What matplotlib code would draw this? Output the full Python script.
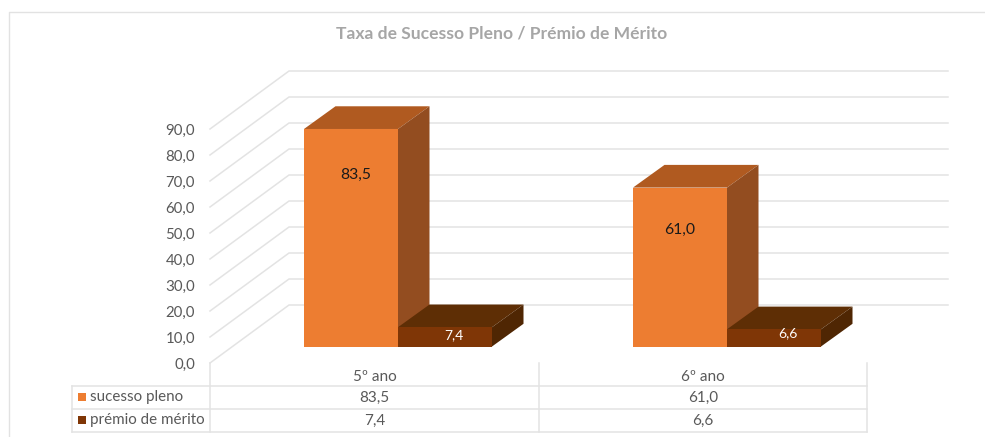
import matplotlib
matplotlib.use('Agg')
import matplotlib.pyplot as plt
from matplotlib.patches import Rectangle

years = ['5º ano', '6º ano']
series_names = ['sucesso pleno', 'prémio de mérito']
sucesso = [83.5, 61.0]
premio = [7.4, 6.6]
y_ticks = [0, 10, 20, 30, 40, 50, 60, 70, 80, 90]

plt.rcParams['font.family'] = ['Lato', 'DejaVu Sans']


def fmt(v):
    return f'{v:.1f}'.replace('.', ',')


W, H = 985, 437
fig = plt.figure(figsize=(W / 100, H / 100), dpi=100)

# fundo em pixeis: moldura, grelha, tabela
bg = fig.add_axes([0, 0, 1, 1])
bg.set_xlim(0, W)
bg.set_ylim(H, 0)
bg.axis('off')

line_c = '#E3E3E3'
bg.plot([9, 9, W], [H, 12, 12], color='#E2E2E2', lw=1)

for i, t in enumerate(y_ticks):
    y_front = 363 - 26 * i
    y_back = 305 - 26 * i
    bg.plot([210, 289, 948], [y_front, y_back, y_back], color=line_c, lw=1.1)
    bg.text(195, y_front + 2, fmt(t), ha='right', va='center', fontsize=10.8, color='#595959')

# tabela de dados
for y in [386, 409, 432]:
    bg.plot([72, 867], [y, y], color=line_c, lw=1.1)
bg.plot([72, 72], [386, 432], color=line_c, lw=1.1)
for x in [210, 539, 867]:
    bg.plot([x, x], [363, 432], color=line_c, lw=1.1)

colors = ['#ED7D31', '#7F3606']
tops = ['#B05A20', '#5E2E05']
sides = ['#934D20', '#4F2603']
table_cols = [374.5, 703]
for j, x in enumerate(table_cols):
    bg.text(x, 377, years[j], ha='center', va='center', fontsize=11, color='#595959')
    bg.text(x, 398, fmt(sucesso[j]), ha='center', va='center', fontsize=11, color='#595959')
    bg.text(x, 421, fmt(premio[j]), ha='center', va='center', fontsize=11, color='#595959')
for k, y in enumerate([397, 420]):
    bg.add_patch(Rectangle((78, y - 4), 8, 8, color=colors[k], lw=0))
    bg.text(90, y, series_names[k], ha='left', va='center', fontsize=10.9,
            color='#595959')

bg.text(502, 33.5, 'Taxa de Sucesso Pleno / Prémio de Mérito', ha='center', va='center',
        fontsize=12.6, fontweight='bold', color='#A6A6A6')

# barras na escala dos valores
px_cat = 329
px_val = 2.605
ax = fig.add_axes([0, 0, 1, 1])
ax.patch.set_alpha(0)
ax.axis('off')
ax.set_xlim(-398 / px_cat, (W - 398) / px_cat)
ax.set_ylim(-(H - 346.5) / px_val, 346.5 / px_val)

bar_w = 94 / px_cat
dx = 31.5 / px_cat
dy = 22.7 / px_val


def bar3d(x0, v, k):
    x1 = x0 + bar_w
    ax.fill([x0, x0 + dx, x1 + dx, x1], [v, v + dy, v + dy, v], color=tops[k], lw=0)
    ax.fill([x1, x1 + dx, x1 + dx, x1], [0, dy, v + dy, v], color=sides[k], lw=0)
    ax.bar(x0, v, bar_w, align='edge', color=colors[k], lw=0)


for i in range(len(years)):
    bar3d(i - bar_w, sucesso[i], 0)
    bar3d(i, premio[i], 1)

ax.text(-42 / px_cat, sucesso[0] - 17.6, fmt(sucesso[0]), ha='center', va='center',
        fontsize=11.3, color='#1a1a1a')
ax.text(1 - 47 / px_cat, sucesso[1] - 16.3, fmt(sucesso[1]), ha='center', va='center',
        fontsize=11.3, color='#1a1a1a')
ax.text(56 / px_cat, premio[0] - 3, fmt(premio[0]), ha='center', va='center',
        fontsize=10, color='white')
ax.text(1 + 61 / px_cat, premio[1] - 1.4, fmt(premio[1]), ha='center', va='center',
        fontsize=10, color='white')

fig.savefig('out.png', dpi=100)
